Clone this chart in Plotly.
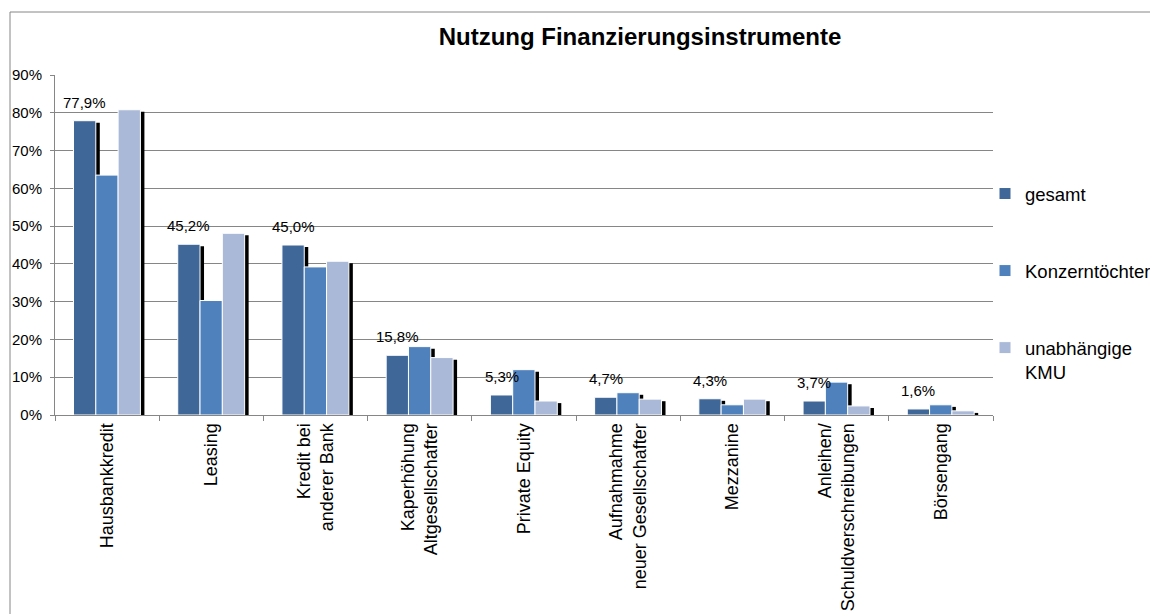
import plotly.graph_objects as go

categories = [
    "Hausbankkredit",
    "Leasing",
    "Kredit bei<br>anderer Bank",
    "Kaperhöhung<br>Altgesellschafter",
    "Private Equity",
    "Aufnahmahme<br>neuer Gesellschafter",
    "Mezzanine",
    "Anleihen/<br>Schuldverschreibungen",
    "Börsengang",
]
gesamt = [77.9, 45.2, 45.0, 15.8, 5.3, 4.7, 4.3, 3.7, 1.6]
konzern = [63.5, 30.3, 39.2, 18.1, 12.0, 5.9, 2.7, 8.7, 2.7]
unabhaengig = [80.8, 48.1, 40.7, 15.2, 3.7, 4.2, 4.2, 2.4, 1.1]
series_names = ["gesamt", "Konzerntöchter", "unabhängige<br>KMU"]
colors = ["#3F6899", "#4F81BD", "#AAB9D7"]
gesamt_labels = [f"{v:.1f}".replace(".", ",") + "%" for v in gesamt]

FONT = "Liberation Sans, Arial, sans-serif"
OFF = 8  # page body margin
SW, SH = 1158, 614
W, H = SW - OFF, SH - OFF
# plot area in screen pixels
PX0, PX1, PY0, PY1 = 55, 993, 75, 415
L, R, T, B = PX0 - OFF, (OFF + W) - PX1, PY0 - OFF, (OFF + H) - PY1
pw, ph = PX1 - PX0, PY1 - PY0
catw = pw / 9

bar_w = 0.214
start = -0.3225
shadow_dx = 4.0 / catw
shadow_dy = 0.55

series = [gesamt, konzern, unabhaengig]
fig = go.Figure()

for i, vals in enumerate(series):
    fig.add_trace(go.Bar(
        x=categories, y=vals, base=-shadow_dy,
        width=bar_w, offset=start + i * bar_w + shadow_dx,
        marker=dict(color="black", line=dict(width=0)),
        showlegend=False, hoverinfo="skip",
    ))

for i, vals in enumerate(series):
    fig.add_trace(go.Bar(
        x=categories, y=vals, name=series_names[i],
        width=bar_w, offset=start + i * bar_w,
        marker=dict(color=colors[i], line=dict(color="white", width=1)),
        legendgroup=str(i),
    ))

def px_x(p):
    return (p - PX0) / pw

def px_y(p):
    return (PY1 - p) / ph

annotations = []
for c, v, lab in zip(categories, gesamt, gesamt_labels):
    annotations.append(dict(
        x=c, y=v, xref="x", yref="y", text=lab, showarrow=False,
        xanchor="center", yanchor="bottom",
        xshift=(start + bar_w / 2) * catw, yshift=8,
        font=dict(family=FONT, size=15, color="black"),
    ))

border = dict(color="#868686", width=1)
fig.update_layout(
    width=W, height=H,
    margin=dict(l=L, r=R, t=T, b=B, autoexpand=False),
    paper_bgcolor="white", plot_bgcolor="white",
    barmode="overlay",
    font=dict(family=FONT, color="black"),
    title=dict(text="<b>Nutzung Finanzierungsinstrumente</b>",
               font=dict(family=FONT, size=24, color="black"),
               x=(640 - OFF) / W, xanchor="center",
               y=1 - (37 - OFF) / H, yanchor="middle"),
    xaxis=dict(
        type="category", range=[-0.5, 8.5],
        showline=True, linecolor="#868686", linewidth=1,
        ticks="outside", tickson="boundaries", ticklen=5, tickcolor="#868686",
        tickangle=-90, tickfont=dict(family=FONT, size=18, color="black"),
        showgrid=False,
    ),
    yaxis=dict(
        range=[0, 90], dtick=10, ticksuffix="%",
        showline=True, linecolor="#868686", linewidth=1,
        ticks="outside", ticklen=4, tickcolor="#868686",
        ticklabelstandoff=5,
        showgrid=True, gridcolor="#868686", gridwidth=1,
        tickfont=dict(family=FONT, size=15, color="black"),
        zeroline=False,
    ),
    legend=dict(
        x=px_x(985), xanchor="left", y=px_y(175), yanchor="top",
        font=dict(family=FONT, size=18.5, color="black"),
        tracegroupgap=50, valign="top", bgcolor="rgba(0,0,0,0)",
    ),
    annotations=annotations,
    shapes=[
        dict(type="line", xref="paper", yref="paper",
             x0=px_x(10), x1=px_x(1160), y0=px_y(12), y1=px_y(12), line=border),
        dict(type="line", xref="paper", yref="paper",
             x0=px_x(10), x1=px_x(10), y0=px_y(12), y1=px_y(620), line=border),
    ],
)

fig.write_html("out.html")
